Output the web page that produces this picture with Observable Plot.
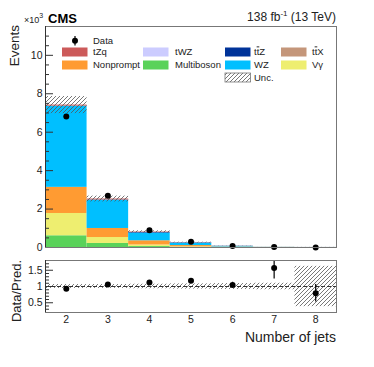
<!DOCTYPE html>
<html><head><meta charset="utf-8">
<script src="https://cdn.jsdelivr.net/npm/d3@7"></script>
<script src="https://cdn.jsdelivr.net/npm/@observablehq/plot@0.6"></script>
<style>
body{margin:0;background:#fff;font-family:"Liberation Sans",Arial,Helvetica,sans-serif;}
#c{position:relative;width:374px;height:367px;overflow:hidden;}
#c svg{position:absolute;left:0;}
#main{top:0;}
#ratio{top:250px;}
#ov{top:0;pointer-events:none;}
</style></head><body>
<svg width="0" height="0" style="position:absolute">
<defs>
<pattern id="hatch" patternUnits="userSpaceOnUse" width="4" height="4">
<path d="M-1,1 l2,-2 M0,4 l4,-4 M3,5 l2,-2" stroke="#555" stroke-width="0.8"/>
</pattern>
</defs></svg>
<div id="c"></div>
<script>
// ---- data (events in units of 10^3) ----
const jets = [2, 3, 4, 5, 6, 7, 8];
const dataYield = [6.82, 2.69, 0.90, 0.30, 0.075, 0.022, 0.004];
const multiboson = [0.61, 0.21, 0.05, 0.012, 0.003, 0.0006, 0.0002];
const vgamma     = [1.16, 0.31, 0.08, 0.020, 0.005, 0.0010, 0.0003];
const nonprompt  = [1.36, 0.47, 0.22, 0.070, 0.020, 0.0040, 0.0015];
const wz         = [4.21, 1.46, 0.40, 0.120, 0.030, 0.0050, 0.0018];
const ttz        = [0.01, 0.02, 0.03, 0.020, 0.009, 0.0025, 0.0010];
const twz        = [0.002, 0.003, 0.004, 0.003, 0.001, 0.0003, 0.0001];
const ttx        = [0.01, 0.01, 0.01, 0.006, 0.002, 0.0005, 0.0002];
const tzq        = [0.05, 0.04, 0.02, 0.006, 0.002, 0.0004, 0.0001];
const relUnc     = [0.06, 0.06, 0.07, 0.08, 0.09, 0.10, 0.62];
const ratio      = [0.93, 1.06, 1.12, 1.18, 1.05, 1.57, 0.79];
const ratioErr   = [0.012, 0.02, 0.04, 0.07, 0.08, 0.34, 0.27];
const processes  = ["Multiboson", "Vγ", "Nonprompt", "WZ", "ttZ", "tWZ", "ttX", "tZq"];
const colors     = ["#5ad25a", "#eeee70", "#ff9b32", "#00bfff", "#003399", "#ccccff", "#c4967a", "#cc5a5a"];
const yMajor = [0, 2, 4, 6, 8, 10];
const rMajor = [0.5, 1, 1.5];

const series = [multiboson, vgamma, nonprompt, wz, ttz, twz, ttx, tzq];
const rows = [], bins = [];
jets.forEach((j, i) => {
  let c = 0;
  processes.forEach((p, k) => { const v = series[k][i]; rows.push({jet: j, process: p, y1: c, y2: c + v}); c += v; });
  bins.push({jet: j, total: c, data: dataYield[i], err: Math.sqrt(dataYield[i] * 1000) / 1000, rel: relUnc[i], ratio: ratio[i], rerr: ratioErr[i]});
});
const yMinor = d3.range(0, 11.5 + 1e-9, 0.5).filter(v => !yMajor.includes(v));
const rMinor = d3.range(0.3, 1.8, 0.1).map(v => +v.toFixed(2)).filter(v => !rMajor.includes(v));
const pxUnit = 291 / 7;
const style = {fontFamily: "Liberation Sans, Arial, sans-serif", fontSize: "10.5px", color: "#222", background: "transparent"};

const main = Plot.plot({
  width: 374, height: 260, marginTop: 26, marginBottom: 13, marginLeft: 45, marginRight: 38,
  style,
  x: {domain: [1.5, 8.5], axis: null},
  y: {domain: [0, 11.5], axis: null},
  color: {domain: processes, range: colors},
  marks: [
    Plot.rect(rows, {x1: d => d.jet - 0.5, x2: d => d.jet + 0.5, y1: "y1", y2: "y2", fill: "process"}),
    Plot.rect(bins, {x1: d => d.jet - 0.5, x2: d => d.jet + 0.5, y1: d => d.total * (1 - d.rel), y2: d => d.total * (1 + d.rel), fill: "url(#hatch)"}),
    Plot.ruleX(bins, {x: "jet", y1: d => d.data - d.err, y2: d => d.data + d.err, stroke: "black", strokeWidth: 1.2}),
    Plot.dot(bins, {x: "jet", y: "data", r: 3, fill: "black"}),
    Plot.ruleY(yMajor, {y: d => d, x1: 1.5, x2: 1.5 + 8 / pxUnit, stroke: "#333"}),
    Plot.ruleY(yMinor, {y: d => d, x1: 1.5, x2: 1.5 + 4 / pxUnit, stroke: "#333"}),
    Plot.text(yMajor, {x: 1.5, y: d => d, text: d => String(d), dx: -3, textAnchor: "end", fontSize: 10.5}),
    Plot.frame({stroke: "#777"}),
    Plot.ruleX([1.5], {stroke: "#333"})
  ]
});
main.id = "main";

const rp = Plot.plot({
  width: 374, height: 117, marginTop: 10, marginBottom: 55, marginLeft: 45, marginRight: 38,
  style,
  x: {domain: [1.5, 8.5]},
  y: {domain: [0.2, 1.8], axis: null},
  marks: [
    Plot.rect(bins, {x1: d => d.jet - 0.5, x2: d => d.jet + 0.5, y1: d => Math.max(0.2, 1 - d.rel), y2: d => Math.min(1.8, 1 + d.rel), fill: "url(#hatch)"}),
    Plot.ruleY([1], {stroke: "#333", strokeDasharray: "4,2"}),
    Plot.ruleX(bins, {x: "jet", y1: d => Math.max(0.2, d.ratio - d.rerr), y2: d => Math.min(1.8, d.ratio + d.rerr), stroke: "black", strokeWidth: 1.2}),
    Plot.dot(bins, {x: "jet", y: "ratio", r: 3, fill: "black"}),
    Plot.ruleY(rMajor, {y: d => d, x1: 1.5, x2: 1.5 + 8 / pxUnit, stroke: "#333"}),
    Plot.ruleY(rMinor, {y: d => d, x1: 1.5, x2: 1.5 + 4 / pxUnit, stroke: "#333"}),
    Plot.text(rMajor, {x: 1.5, y: d => d, text: d => String(d), dx: -3, textAnchor: "end", fontSize: 10.5}),
    Plot.axisX(jets, {tickSize: 0, tickPadding: 3, label: null, fontSize: 10.5}),
    Plot.frame({stroke: "#777"}),
    Plot.ruleX([1.5], {stroke: "#333"})
  ]
});
rp.id = "ratio";

const c = document.getElementById("c");
c.appendChild(main);
c.appendChild(rp);

// ---- legend & annotations ----
const legend = [
  {label: "tZq", color: "#cc5a5a", col: 0, row: 0},
  {label: "tWZ", color: "#ccccff", col: 1, row: 0},
  {label: "tt̄Z", color: "#003399", col: 2, row: 0, over: true},
  {label: "tt̄X", color: "#c4967a", col: 3, row: 0, over: true},
  {label: "Nonprompt", color: "#ff9b32", col: 0, row: 1},
  {label: "Multiboson", color: "#5ad25a", col: 1, row: 1},
  {label: "WZ", color: "#00bfff", col: 2, row: 1},
  {label: "Vγ", color: "#eeee70", col: 3, row: 1},
  {label: "Unc.", color: "url(#hatch)", col: 2, row: 2, hatch: true}
];
const colSw = [62, 143, 225, 281], colTx = [93, 175, 254, 312], rowY = [52, 65, 77.5];
let ov = `<svg id="ov" width="374" height="367" xmlns="http://www.w3.org/2000/svg" font-family="Liberation Sans, Arial, sans-serif" fill="#222">`;
ov += `<text x="24" y="23" font-size="9">×10<tspan dy="-5" font-size="7">3</tspan></text>`;
ov += `<text x="48" y="22.5" font-size="13" font-weight="bold" fill="#000">CMS</text>`;
ov += `<text x="336" y="21" font-size="12" text-anchor="end">138 fb<tspan dy="-5" font-size="8">-1</tspan><tspan dy="5"> (13 TeV)</tspan></text>`;
ov += `<text transform="translate(19,25) rotate(-90)" font-size="13.5" text-anchor="end">Events</text>`;
ov += `<text transform="translate(20.5,291) rotate(-90)" font-size="13" text-anchor="middle">Data/Pred.</text>`;
ov += `<text x="336" y="341.5" font-size="14" text-anchor="end">Number of jets</text>`;
ov += `<line x1="75" y1="36" x2="75" y2="45.5" stroke="black" stroke-width="1.2"/><circle cx="75" cy="40.7" r="3" fill="black"/>`;
ov += `<text x="93" y="44" font-size="9.5">Data</text>`;
legend.forEach(l => {
  const y = rowY[l.row];
  ov += `<rect x="${colSw[l.col]}" y="${y - 4.5}" width="25.5" height="9" fill="${l.color}" ${l.hatch ? 'stroke="#777" stroke-width="0.8"' : ''}/>`;
  const txt = l.over ? `t<tspan text-decoration="overline">t</tspan>${l.label.slice(-1)}` : l.label;
  ov += `<text x="${colTx[l.col]}" y="${y + 3.4}" font-size="9.5">${txt}</text>`;
});
ov += `</svg>`;
c.insertAdjacentHTML("beforeend", ov);
</script>
</body></html>
